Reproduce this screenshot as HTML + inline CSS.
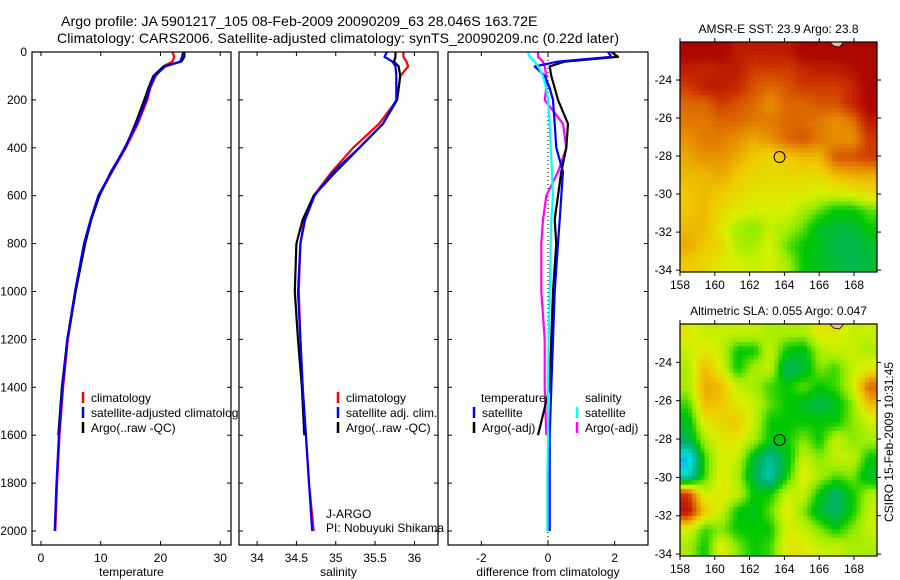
<!DOCTYPE html>
<html><head><meta charset="utf-8">
<style>
html,body{margin:0;padding:0;background:#fff;}
svg{display:block;font-family:"Liberation Sans",sans-serif;}
</style></head>
<body>
<svg id="fig" width="900" height="580" viewBox="0 0 900 580">
<text x="61" y="26" font-size="14.2">Argo profile: JA 5901217_105 08-Feb-2009 20090209_63 28.046S 163.72E</text>
<text x="57" y="43" font-size="14" textLength="562">Climatology: CARS2006. Satellite-adjusted climatology: synTS_20090209.nc (0.22d later)</text>
</svg>
<script>
// ---- data ----
const depths = [0,20,40,60,100,150,200,300,400,500,600,700,800,1000,1200,1400,1600,1800,2000];
const tempClim = [22.0,22.3,22.0,20.5,19.2,18.3,17.8,16.2,14.2,11.9,9.7,8.4,7.3,5.8,4.5,3.7,3.1,2.7,2.4];
const tempSat = [23.8,23.6,23.3,20.8,19.0,18.2,17.6,16.0,14.0,11.8,9.6,8.3,7.2,5.7,4.4,3.6,3.0,2.6,2.3];
const tempArgo = [24.0,24.0,23.5,20.5,18.8,18.0,17.3,15.8,14.1,11.7,9.8,8.4,7.4,5.8,4.4,3.5,2.9,null,null];
const salClim = [35.86,35.86,35.9,35.92,35.82,35.8,35.78,35.55,35.22,34.95,34.72,34.6,34.55,34.53,34.55,34.58,34.62,34.66,34.72];
const salSat = [35.65,35.62,35.72,35.76,35.77,35.77,35.77,35.6,35.3,34.97,34.73,34.61,34.55,34.52,34.55,34.58,34.62,34.66,34.7];
const salArgo = [35.76,35.76,35.74,35.8,35.82,35.8,35.78,35.6,35.3,35.0,34.72,34.58,34.5,34.48,34.52,34.57,34.6,null,null];
const diffTempSat = [1.8,1.9,0.3,-0.4,-0.1,0.05,0.15,0.2,0.25,0.45,0.4,0.35,0.3,0.2,0.15,0.1,0.05,0.05,0.05];
const diffTempArgo = [1.9,2.1,0.5,0.05,0.1,0.2,0.3,0.6,0.55,0.4,0.3,0.2,0.25,0.15,0.1,0.05,-0.3,null,null];
const diffSalSat = [-0.6,-0.55,-0.4,-0.3,-0.15,-0.05,0.0,0.05,0.08,0.12,0.15,0.1,0.08,0.05,0.02,0.0,0.0,-0.02,-0.02];
const diffSalArgo = [-0.3,-0.3,-0.15,-0.1,-0.05,-0.05,-0.1,0.45,0.55,0.3,-0.05,-0.15,-0.2,-0.2,-0.1,-0.1,-0.05,null,null];
const depthTicks = [0,200,400,600,800,1000,1200,1400,1600,1800,2000];
const tempTicks = [0,10,20,30];
const salTicks = [34,34.5,35,35.5,36];
const diffTicks = [-2,0,2];
const lonTicks = [158,160,162,164,166,168];
const latTicks = [-24,-26,-28,-30,-32,-34];
const sstGrid = [
[.95,.95,.95,.9,.9,.9,.9,.95,.95,.95,.95,.95],
[.9,.88,.9,.9,.85,.85,.85,.88,.9,.9,.92,.95],
[.85,.9,.9,.88,.82,.8,.82,.85,.85,.85,.88,.95],
[.8,.8,.85,.82,.8,.75,.8,.8,.82,.82,.88,.95],
[.78,.78,.8,.8,.78,.78,.8,.8,.78,.75,.78,.9],
[.75,.78,.78,.75,.72,.75,.8,.82,.78,.75,.75,.85],
[.72,.75,.75,.72,.68,.65,.68,.7,.7,.82,.82,.85],
[.7,.7,.72,.68,.65,.65,.65,.65,.65,.7,.72,.72],
[.68,.7,.68,.65,.63,.63,.62,.62,.6,.6,.62,.65],
[.68,.7,.65,.62,.6,.6,.6,.55,.5,.45,.45,.5],
[.7,.7,.62,.55,.52,.58,.55,.5,.42,.4,.4,.45],
[.72,.68,.65,.55,.55,.6,.5,.45,.42,.38,.38,.4],
[.68,.65,.62,.6,.58,.6,.55,.45,.42,.4,.38,.4]];
const slaGrid = [
[.62,.58,.58,.58,.58,.55,.55,.55,.62,.62,.58,.58],
[.58,.62,.58,.45,.45,.58,.45,.42,.55,.58,.58,.55],
[.55,.7,.6,.45,.55,.58,.36,.4,.52,.48,.58,.62],
[.55,.72,.7,.58,.55,.48,.45,.5,.45,.48,.58,.8],
[.48,.7,.68,.62,.58,.5,.45,.42,.38,.42,.52,.7],
[.42,.62,.65,.68,.58,.45,.45,.45,.45,.45,.52,.58],
[.38,.55,.62,.62,.55,.45,.45,.52,.45,.58,.52,.55],
[.15,.48,.6,.58,.42,.3,.42,.58,.52,.58,.58,.45],
[.22,.48,.62,.55,.38,.26,.45,.62,.55,.5,.52,.4],
[.85,.58,.62,.58,.45,.45,.58,.58,.45,.35,.45,.55],
[.92,.68,.58,.45,.42,.5,.62,.52,.4,.35,.45,.58],
[.6,.48,.52,.45,.45,.45,.6,.58,.52,.45,.52,.58],
[.55,.45,.62,.52,.45,.48,.62,.62,.58,.58,.55,.55]];
const floatLon = 163.72, floatLat = -28.05;

// ---- helpers ----
const NS = "http://www.w3.org/2000/svg";
const svg = document.getElementById('fig');
function mk(tag, attrs, parent){ const e=document.createElementNS(NS,tag); for(const k in attrs) e.setAttribute(k,attrs[k]); (parent||svg).appendChild(e); return e; }
function txt(x,y,s,size,anchor,parent){ const t=mk('text',{x:x,y:y,'font-size':size,'text-anchor':anchor||'start'},parent); t.textContent=s; return t; }

const TOP=52, BOT=545, DPX=0.2395, FS=12;
function yD(d){ return TOP + d*DPX; }

function panel(name,x0,x1,xmin,xmax,ticks,label,showY){
  const g=mk('g',{});
  
  
  mk('rect',{x:x0,y:TOP,width:x1-x0,height:BOT-TOP,fill:'#fff',stroke:'none'},g);
  const xs=v=>x0+(v-xmin)/(xmax-xmin)*(x1-x0);
  ticks.forEach(t=>{
    const X=xs(t);
    mk('line',{x1:X,y1:BOT,x2:X,y2:BOT-4,stroke:'#000'},g);
    mk('line',{x1:X,y1:TOP,x2:X,y2:TOP+4,stroke:'#000'},g);
    const tl=txt(X,562,String(t),FS,'middle',g);
    
    
  });
  depthTicks.forEach(d=>{
    const Y=yD(d);
    mk('line',{x1:x0,y1:Y,x2:x0+4,y2:Y,stroke:'#000'},g);
    mk('line',{x1:x1,y1:Y,x2:x1-4,y2:Y,stroke:'#000'},g);
    if(showY){ const yl=txt(27,Y+4,String(d),FS,'end',g);
      
       }
  });
  const xl=txt((x0+x1)/2,576,label,FS,'middle',g);
  
  
  return {g,xs,x0,x1};
}
function series(p,vals,color,name){
  let dstr='', pen=false;
  vals.forEach((v,i)=>{ if(v===null){pen=false;return;} dstr+=(pen?'L':'M')+p.xs(v).toFixed(1)+' '+yD(depths[i]).toFixed(1)+' '; pen=true; });
  const path=mk('path',{d:dstr,fill:'none',stroke:color,'stroke-width':2.2,'stroke-linejoin':'round'},p.g);
  
  
}
function frame(p){ mk('rect',{x:p.x0,y:TOP,width:p.x1-p.x0,height:BOT-TOP,fill:'none',stroke:'#000','stroke-width':1.2},p.g); }
function legend(p,x,y,items){
  items.forEach((it,i)=>{
    const yy=y+i*15;
    mk('line',{x1:x,y1:yy-10,x2:x,y2:yy+1,stroke:it[1],'stroke-width':2.5},p.g);
    const t=txt(x+8,yy,it[0],FS,'start',p.g);
    
    
  });
}

// temperature panel
const p1=panel('temperature-panel',32,231,-1.5,31.8,tempTicks,'temperature',true);
series(p1,tempClim,'#f00','temp-climatology-line');
series(p1,tempArgo,'#000','temp-argo-line');
series(p1,tempSat,'#00f','temp-satellite-line');
legend(p1,83,402,[['climatology','#f00'],['satellite-adjusted climatology','#00f'],['Argo(..raw -QC)','#000']]);
frame(p1);

// salinity panel
const p2=panel('salinity-panel',239,438,33.77,36.3,salTicks,'salinity',false);
series(p2,salClim,'#f00','sal-climatology-line');
series(p2,salArgo,'#000','sal-argo-line');
series(p2,salSat,'#00f','sal-satellite-line');
legend(p2,338,402,[['climatology','#f00'],['satellite adj. clim.','#00f'],['Argo(..raw -QC)','#000']]);
const j1=txt(326,518,'J-ARGO',FS,'start',p2.g);


const j2=txt(326,532,'PI: Nobuyuki Shikama',FS,'start',p2.g);


frame(p2);

// difference panel
const p3=panel('difference-panel',448,648,-3,3,diffTicks,'difference from climatology',false);
mk('line',{x1:p3.xs(0),y1:TOP,x2:p3.xs(0),y2:BOT,stroke:'#000','stroke-dasharray':'1 3'},p3.g);
series(p3,diffSalArgo,'#f0f','diff-sal-argo-line');
series(p3,diffTempArgo,'#000','diff-temp-argo-line');
series(p3,diffTempSat,'#00f','diff-temp-satellite-line');
series(p3,diffSalSat,'#0ff','diff-sal-satellite-line');
const lt=txt(481,402,'temperature',FS,'start',p3.g);


const ls=txt(585,402,'salinity',FS,'start',p3.g);


legend(p3,474,417,[['satellite','#00f'],['Argo(-adj)','#000']]);
legend(p3,577,417,[['satellite','#0ff'],['Argo(-adj)','#f0f']]);
frame(p3);

// ---- maps ----
const stops=[[0,[16,64,230]],[0.2,[0,224,224]],[0.35,[0,176,112]],[0.45,[0,200,0]],[0.53,[150,236,0]],[0.6,[216,240,0]],[0.68,[240,200,0]],[0.77,[228,130,0]],[0.86,[204,50,0]],[0.93,[176,10,0]],[1,[160,0,0]]];
function cmap(v){
  v=Math.max(0,Math.min(1,v));
  for(let i=1;i<stops.length;i++){ if(v<=stops[i][0]){ const a=stops[i-1],b=stops[i],f=(v-a[0])/(b[0]-a[0]);
    const c=a[1].map((q,k)=>Math.round(q+(b[1][k]-q)*f)); return 'rgb('+c.join(',')+')'; } }
  return 'rgb(160,0,0)';
}
function sample(grid,r,c){
  const R=grid.length-1, C=grid[0].length-1;
  r=Math.max(0,Math.min(R,r)); c=Math.max(0,Math.min(C,c));
  const r0=Math.floor(r), c0=Math.floor(c), r1=Math.min(R,r0+1), c1=Math.min(C,c0+1), fr=r-r0, fc=c-c0;
  return grid[r0][c0]*(1-fr)*(1-fc)+grid[r0][c1]*(1-fr)*fc+grid[r1][c0]*fr*(1-fc)+grid[r1][c1]*fr*fc;
}
function map(name,title,y0,y1,grid){
  const x0=680,x1=877, lon0=158, lonPx=17.4, latTop=-22.0;
  const latPx=(y1-y0)/12.1;
  const g=mk('g',{});
  
  
  const lx=l=>x0+(l-lon0)*lonPx;
  const ly=l=>y0+(latTop-l)*latPx;
  const rows=grid.length, cols=grid[0].length, sub=4;
  const nR=rows*sub, nC=cols*sub, cw=(x1-x0)/nC, ch=(y1-y0)/nR;
  for(let r=0;r<nR;r++) for(let c=0;c<nC;c++){
    const v=sample(grid,(r+0.5)/sub-0.5,(c+0.5)/sub-0.5);
    const cell=mk('rect',{x:(x0+c*cw).toFixed(2),y:(y0+r*ch).toFixed(2),width:(cw+0.5).toFixed(2),height:(ch+0.5).toFixed(2),fill:cmap(v)},g);
    
    
  }
  mk('path',{d:`M${lx(166.6)} ${y0} l4 4 l6 1 l4 -5 z`,fill:'#f5b8a0',stroke:'#000','stroke-width':0.8},g);
  const mk1=mk('circle',{cx:lx(floatLon),cy:ly(floatLat),r:5.5,fill:'none',stroke:'#000','stroke-width':1},g);
  
  
  mk('rect',{x:x0,y:y0,width:x1-x0,height:y1-y0,fill:'none',stroke:'#000','stroke-width':1.2},g);
  lonTicks.forEach(l=>{ const X=lx(l);
    mk('line',{x1:X,y1:y1,x2:X,y2:y1+4,stroke:'#000'},g);
    mk('line',{x1:X,y1:y0,x2:X,y2:y0-4,stroke:'#000'},g);
    const t=txt(X,y1+17,String(l),FS,'middle',g);
    
     });
  latTicks.forEach(l=>{ const Y=ly(l);
    mk('line',{x1:x0,y1:Y,x2:x0-4,y2:Y,stroke:'#000'},g);
    mk('line',{x1:x1,y1:Y,x2:x1+4,y2:Y,stroke:'#000'},g);
    const t=txt(x0-8,Y+4,String(l),FS,'end',g);
    
     });
  const tt=txt((x0+x1)/2,y0-9,title,FS,'middle',g);
  
  
}
map('sst-map','AMSR-E SST: 23.9 Argo: 23.8',42,272,sstGrid);
map('sla-map','Altimetric SLA: 0.055 Argo: 0.047',324,556,slaGrid);
const cs=txt(0,0,'CSIRO 15-Feb-2009 10:31:45',FS,'middle');
cs.setAttribute('transform','translate(893,442) rotate(-90)');


</script>
</body></html>
